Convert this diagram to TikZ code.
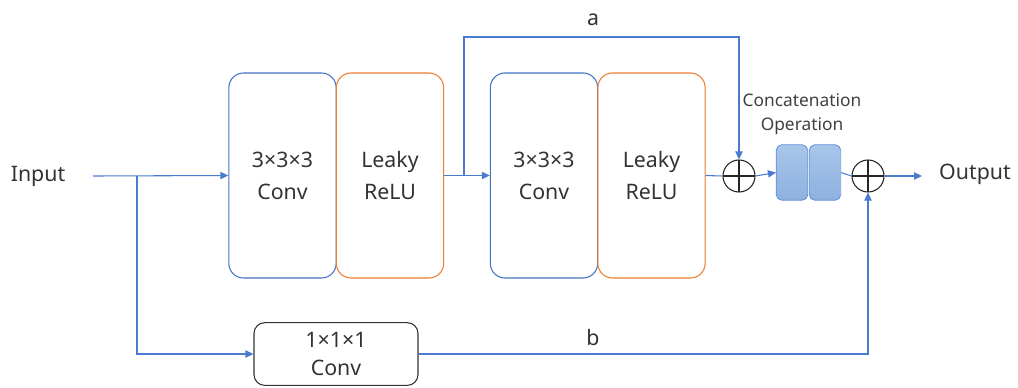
\documentclass[tikz,border=0pt]{standalone}
\usepackage{fontspec}
\setmainfont{Noto Sans}
\usetikzlibrary{arrows.meta,calc}
\definecolor{convblue}{HTML}{4472C4}
\definecolor{reluorange}{HTML}{ED7D31}
\definecolor{linkblue}{HTML}{4A7BD0}
\definecolor{txt}{HTML}{333333}
\definecolor{catfillA}{HTML}{A9C5EA}
\definecolor{catfillB}{HTML}{8DB1E0}
\definecolor{catedge}{HTML}{5B8FD6}
\begin{document}
\begin{tikzpicture}[x=0.75pt,y=-0.75pt,
  every node/.style={text=txt,font=\fontsize{16}{24}\selectfont},
  layerbox/.style={draw,rounded corners=11pt,line width=0.8pt,minimum width=80.5pt,minimum height=153.75pt,inner sep=0pt,align=center},
  convbox/.style={layerbox,draw=convblue},
  relubox/.style={layerbox,draw=reluorange},
  smallconv/.style={draw=black!80,rounded corners=8pt,line width=0.8pt,minimum width=123pt,minimum height=47pt,inner sep=0pt,align=center,font=\fontsize{16}{21}\selectfont},
  catbox/.style={draw=catedge,rounded corners=4pt,line width=0.6pt,top color=catfillA,bottom color=catfillB,minimum width=23.5pt,minimum height=41.5pt,inner sep=0pt},
  sumnode/.style={circle,draw=black!85,line width=0.8pt,minimum size=24pt,inner sep=0pt,
    path picture={\draw[black!85,line width=0.8pt]
      (path picture bounding box.north) -- (path picture bounding box.south)
      (path picture bounding box.west) -- (path picture bounding box.east);}},
  flow/.style={draw=linkblue,line width=0.8pt},
  arr/.style={flow,-{Triangle[length=6pt,width=5.5pt]}}
]
\useasboundingbox (0,0) rectangle (1018,387);

% labels at the ends
\node (in) at (38,176) {Input};
\node (out) at (975,174) {Output};

% main path blocks
\node[convbox] (c1) at (282.5,175.5) {3×3×3\\Conv};
\node[relubox] (r1) at (390,175.5) {Leaky\\ReLU};
\node[convbox] (c2) at (544,175.5) {3×3×3\\Conv};
\node[relubox] (r2) at (651.5,175.5) {Leaky\\ReLU};

\node[sumnode] (s1) at (739,176) {};
\node[catbox] (k1) at (792,172.5) {};
\node[catbox] (k2) at (825,172.5) {};
\node[sumnode] (s2) at (868,176) {};

\node[font=\fontsize{13}{18}\selectfont,align=center,text=black!75] (cat) at (802,114) {Concatenation\\Operation};

% shortcut block
\node[smallconv] (c0) at (336,354) {1×1×1\\Conv};

% helper coordinates
\coordinate (in0) at (93,176);
\coordinate (br) at (137,176);
\coordinate (sk) at (464,176);
\coordinate (skt) at (464,37);
\coordinate (skr) at (739,37);

% connectors
\draw[arr] (in0) -- (c1.west);
\draw[arr] (r1.east) -- (c2.west);
\draw[flow] (r2.east) -- (s1.west);
\draw[arr] (s1.east) -- (k1.west);
\draw[flow] (k2.east) -- (s2.west);
\draw[arr] (s2.east) -- (922,176);

% skip connection a
\draw[arr] (sk) -- (skt) -- (skr) -- (s1.north);
\node (la) at (593,20) {a};

% shortcut b
\draw[arr] (br) |- (c0.west);
\draw[arr] (c0.east) -| (s2.south);
\node (lb) at (593,337) {b};
\end{tikzpicture}
\end{document}
